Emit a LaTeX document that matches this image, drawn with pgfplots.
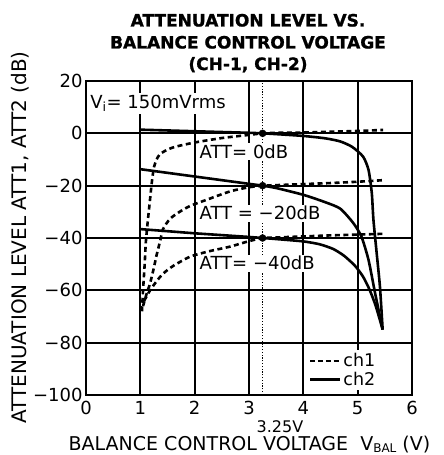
\documentclass[border=0pt]{standalone}
\usepackage{fontspec}
\setmainfont{DejaVu Sans}
\newfontfamily\heavyfont{DejaVu Sans Bold}[FakeBold=1.2]
\usepackage{pgfplots}
\pgfplotsset{compat=1.18}

\begin{document}
\begin{tikzpicture}
\begin{axis}[
    scale only axis,
    width=326bp, height=314bp,
    xmin=0, xmax=6, ymin=-100, ymax=20,
    xtick={0,...,6}, ytick={-100,-80,...,20},
    xticklabels={0,1,2,3,4,5,6},
    yticklabels={−100,−80,−60,−40,−20,0,20},
    tick label style={font=\fontsize{18bp}{18bp}\selectfont},
    xticklabel style={yshift=-3bp},
    major tick length=0pt,
    axis line style={line width=2.6bp},
    clip=false,
    legend style={at={(0.68,0.143)}, anchor=north west, draw=none, fill=white,
        font=\fontsize{17.5bp}{17.5bp}\selectfont, inner sep=1bp, row sep=0bp},
    legend cell align=left,
    legend image code/.code={\draw[#1] (0bp,0bp) -- (30bp,0bp);},
]

% grid lines
\addplot[black, line width=2bp, forget plot] coordinates {(1,-100) (1,20)};
\addplot[black, line width=2bp, forget plot] coordinates {(2,-100) (2,20)};
\addplot[black, line width=2bp, forget plot] coordinates {(3,-100) (3,20)};
\addplot[black, line width=2bp, forget plot] coordinates {(4,-100) (4,20)};
\addplot[black, line width=2bp, forget plot] coordinates {(5,-100) (5,20)};
\addplot[black, line width=2bp, forget plot] coordinates {(0,0) (6,0)};
\addplot[black, line width=2bp, forget plot] coordinates {(0,-20) (6,-20)};
\addplot[black, line width=2bp, forget plot] coordinates {(0,-40) (6,-40)};
\addplot[black, line width=2bp, forget plot] coordinates {(0,-60) (6,-60)};
\addplot[black, line width=2bp, forget plot] coordinates {(0,-80) (6,-80)};

% 3.25 V marker line
\addplot[black, line width=0.9bp, dash pattern=on 1.2bp off 1.6bp, forget plot]
    coordinates {(3.25,-100) (3.25,20)};

% labels inside the plot (white boxes hide the grid)
\node[anchor=base west, fill=white, inner sep=2bp, font=\fontsize{18bp}{18bp}\selectfont]
    at (axis cs:0.04,9.6) {V\textsubscript{i}= 150mVrms};
\node[anchor=base west, fill=white, inner sep=1.5bp, font=\fontsize{18bp}{18bp}\selectfont]
    at (axis cs:2.06,-9.5) {ATT= 0dB};
\node[anchor=base west, fill=white, inner sep=1.5bp, font=\fontsize{18bp}{18bp}\selectfont]
    at (axis cs:2.06,-33.1) {ATT = −20dB};
\node[anchor=base west, fill=white, inner sep=1.5bp, font=\fontsize{18bp}{18bp}\selectfont]
    at (axis cs:2.06,-52.2) {ATT= −40dB};

% ch1 (dashed)
\addplot[black, line width=2.6bp, dash pattern=on 5bp off 3.5bp, smooth, tension=0.4, forget plot] coordinates {
    (1.03,-68) (1.05,-60) (1.08,-50) (1.10,-42) (1.13,-35) (1.17,-27)
    (1.21,-19) (1.25,-13) (1.30,-10) (1.36,-8) (1.5,-6.2) (1.67,-5)
    (2.0,-3.5) (2.5,-1.8) (3.0,-0.6) (3.25,0) (3.5,0.2) (4.0,0.3)
    (4.5,0.6) (5.0,0.9) (5.47,1.3)
};
\addplot[black, line width=2.6bp, dash pattern=on 5bp off 3.5bp, smooth, tension=0.4, forget plot] coordinates {
    (1.05,-66) (1.12,-61) (1.18,-57.3) (1.24,-52.2) (1.30,-46.5) (1.36,-41.5)
    (1.42,-36.5) (1.55,-32.6) (1.73,-29.9) (1.92,-27.7) (2.22,-25.4)
    (2.65,-22.2) (3.0,-20.6) (3.25,-20) (3.5,-19.8) (4.0,-19.4) (4.5,-19)
    (5.0,-18.5) (5.47,-17.9)
};
\addplot[black, line width=2.6bp, dash pattern=on 5bp off 3.5bp, smooth, tension=0.4, forget plot] coordinates {
    (1.07,-64) (1.18,-60) (1.30,-56.5) (1.42,-53.6) (1.61,-50.6) (1.92,-47.1)
    (2.28,-45.0) (2.65,-43.3) (3.0,-41.2) (3.25,-40) (3.5,-39.8) (4.0,-39.4)
    (4.5,-39) (5.0,-38.7) (5.47,-38.4)
};

% ch2 (solid)
\addplot[black, line width=2.6bp, smooth, tension=0.4, forget plot] coordinates {
    (1.0,1.4) (1.5,1.1) (2.0,0.8) (2.5,0.5) (3.0,0.2) (3.25,0) (3.5,-0.3)
    (4.0,-1.0) (4.4,-1.9) (4.68,-3.1) (4.9,-5.2) (5.1,-8.9) (5.2,-14)
    (5.26,-22.8) (5.29,-33) (5.35,-45.8) (5.41,-58.6) (5.46,-75)
};
\addplot[black, line width=2.6bp, smooth, tension=0.4, forget plot] coordinates {
    (1.0,-13.7) (1.5,-15.1) (2.0,-16.5) (2.5,-17.9) (3.0,-19.3) (3.25,-20)
    (3.5,-20.9) (4.0,-23.5) (4.4,-26.3) (4.68,-28.8) (4.92,-34.3) (5.07,-39.5)
    (5.2,-48.4) (5.32,-61) (5.46,-75)
};
\addplot[black, line width=2.6bp, smooth, tension=0.4, forget plot] coordinates {
    (1.0,-36.6) (1.5,-37.4) (2.0,-38.2) (2.5,-38.9) (3.0,-39.6) (3.25,-40)
    (3.5,-40.4) (4.0,-41.3) (4.3,-42.4) (4.55,-44.2) (4.75,-46.8) (4.95,-50.6)
    (5.1,-54.8) (5.22,-59.8) (5.33,-65.8) (5.46,-75)
};

% crossing points at 3.25 V
\addplot[only marks, mark=*, mark size=3.5bp, black, forget plot]
    coordinates {(3.25,0) (3.25,-20) (3.25,-40)};

\addlegendimage{black, line width=2.2bp, dash pattern=on 5bp off 2.8bp}
\addlegendentry{ch1}
\addlegendimage{black, line width=2.6bp}
\addlegendentry{ch2}

% title and axis labels
\node[anchor=base, font=\fontsize{17bp}{17bp}\heavyfont]
    at (rel axis cs:0.497,1.1736) {ATTENUATION LEVEL VS.};
\node[anchor=base, font=\fontsize{17bp}{17bp}\heavyfont]
    at (rel axis cs:0.497,1.1035) {BALANCE CONTROL VOLTAGE};
\node[anchor=base, font=\fontsize{17bp}{17bp}\heavyfont]
    at (rel axis cs:0.497,1.035) {(CH-1, CH-2)};
\node[anchor=base, font=\fontsize{16bp}{16bp}\selectfont]
    at (rel axis cs:0.595,-0.121) {3.25V};
\node[anchor=base, font=\fontsize{19bp}{19bp}\selectfont]
    at (rel axis cs:0.5015,-0.1783) {BALANCE\ CONTROL\ VOLTAGE\ \ V\raisebox{-1.5bp}{\fontsize{12bp}{12bp}\selectfont BAL}\ (V)};
\node[rotate=90, font=\fontsize{20bp}{20bp}\selectfont]
    at (rel axis cs:-0.2025,0.5016) {ATTENUATION\ LEVEL\ ATT1,\ ATT2\ (dB)};

\coordinate (sw) at (rel axis cs:0,0);
\coordinate (ne) at (rel axis cs:1,1);
\end{axis}
\pgfresetboundingbox
\path ([xshift=-86bp,yshift=-60bp]sw) rectangle ([xshift=32bp,yshift=81bp]ne);
\end{tikzpicture}
\end{document}
